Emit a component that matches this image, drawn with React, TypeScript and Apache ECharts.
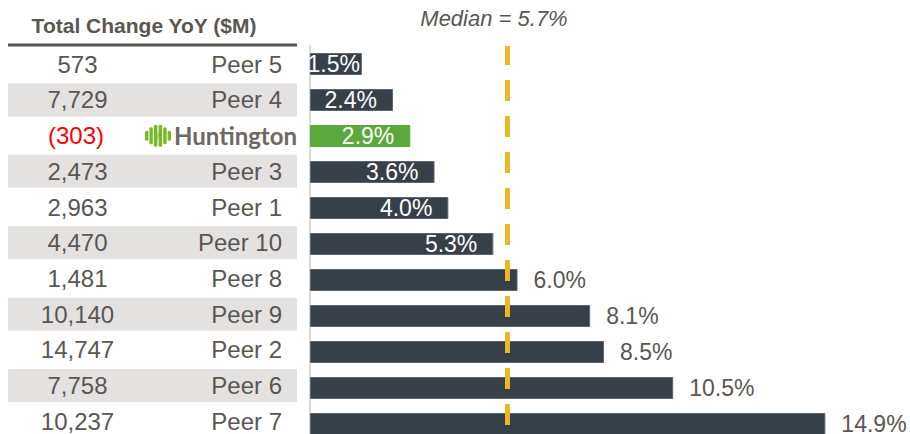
import React, { useEffect, useRef } from 'react';
import * as echarts from 'echarts';

const categories = ['Peer 5', 'Peer 4', 'Huntington', 'Peer 3', 'Peer 1', 'Peer 10', 'Peer 8', 'Peer 9', 'Peer 2', 'Peer 6', 'Peer 7'];
const changeYoY = ['573', '7,729', '(303)', '2,473', '2,963', '4,470', '1,481', '10,140', '14,747', '7,758', '10,237'];
const growth = [1.5, 2.4, 2.9, 3.6, 4.0, 5.3, 6.0, 8.1, 8.5, 10.5, 14.9];
const median = 5.7;
const highlight = 'Huntington';
const headerText = 'Total Change YoY ($M)';
const medianText = 'Median = 5.7%';

const FONT = "'Liberation Sans', Arial, sans-serif";
const TEXT = '#5a5653';
const STRIPE = '#e4e2e0';
const BAR = '#373f48';
const GREEN = '#5ba83c';
const GOLD = '#e9b824';

const logoSvg =
  '<svg xmlns="http://www.w3.org/2000/svg" width="26" height="23" viewBox="0 0 26 23"><g fill="#79b82a">' +
  '<rect x="0" y="6.5" width="3.4" height="10" rx="1.5"/>' +
  '<rect x="4.4" y="3" width="3.4" height="17" rx="1.5"/>' +
  '<rect x="8.8" y="0.5" width="3.6" height="22" rx="1.5"/>' +
  '<rect x="13.6" y="0.5" width="3.6" height="22" rx="1.5"/>' +
  '<rect x="18.2" y="3" width="3.4" height="17" rx="1.5"/>' +
  '<rect x="22.6" y="6.5" width="3.4" height="10" rx="1.5"/>' +
  '<polygon points="12.4,12.5 13.6,7 13.6,10.5 12.4,16"/>' +
  '</g></svg>';
const logoUri = 'data:image/svg+xml;charset=utf-8,' + encodeURIComponent(logoSvg);

export default function App() {
  const ref = useRef<HTMLDivElement>(null);
  useEffect(() => {
    if (!ref.current) return;
    const chart = echarts.init(ref.current, undefined, { renderer: 'svg' });
    const base = { fontFamily: FONT, fontSize: 24, color: TEXT, height: 33, lineHeight: 33 };
    const option: any = {
      animation: false,
      grid: [
        { left: 310, top: 46, width: 588, height: 396, containLabel: false },
        { left: 310, top: 46.4, width: 588, height: 392.7, containLabel: false },
      ],
      xAxis: [
        { type: 'value', min: 0, max: 17, show: false, gridIndex: 0 },
        { type: 'value', min: 0, max: 17, show: false, gridIndex: 1 },
      ],
      yAxis: [
        {
          type: 'category',
          gridIndex: 0,
          inverse: true,
          data: categories,
          axisTick: { show: false },
          axisLabel: { show: false },
          axisLine: { show: true, lineStyle: { color: '#d9d9d9', width: 2 } },
        },
        {
          type: 'category',
          gridIndex: 1,
          inverse: true,
          data: categories,
          axisTick: { show: false },
          axisLine: { show: false },
          axisLabel: {
            margin: 13,
            interval: 0,
            formatter: (name: string, idx: number) => {
              const v = changeYoY[idx];
              if (name === highlight) return `{hv|${v}}{sp|}{logo|}{hn|${name}}`;
              const s = idx % 2 === 1 ? 's' : '';
              return `{v${s}|${v}}{n${s}|${name}}`;
            },
            rich: {
              v: { ...base, width: 139, align: 'center' },
              vs: { ...base, width: 139, align: 'center', backgroundColor: STRIPE },
              n: { ...base, width: 135, align: 'right', padding: [0, 15, 0, 0] },
              ns: { ...base, width: 135, align: 'right', padding: [0, 15, 0, 0], backgroundColor: STRIPE },
              hv: { ...base, width: 136, align: 'center', color: '#ff0000' },
              sp: { width: 1, height: 23 },
              logo: { width: 26, height: 23, backgroundColor: { image: logoUri } },
              hn: {
                ...base,
                width: 126,
                align: 'right',
                fontFamily: "Lato, 'Liberation Sans', sans-serif",
                fontWeight: 'bold',
                fontSize: 24,
                color: '#6d6863',
              },
            },
          },
        },
      ],
      graphic: [
        {
          type: 'text',
          x: 144,
          y: 25,
          style: { text: headerText, fontFamily: FONT, fontWeight: 'bold', fontSize: 21, fill: TEXT, align: 'center', verticalAlign: 'middle' },
        },
        {
          type: 'line',
          shape: { x1: 8, y1: 45, x2: 297, y2: 45 },
          style: { stroke: '#595451', lineWidth: 3 },
        },
        {
          type: 'text',
          x: 494,
          y: 18,
          style: { text: medianText, fontFamily: FONT, fontStyle: 'italic', fontSize: 22, fill: TEXT, align: 'center', verticalAlign: 'middle' },
        },
      ],
      series: [
        {
          type: 'bar',
          xAxisIndex: 0,
          yAxisIndex: 0,
          barWidth: 22,
          data: growth.map((g, i) => {
            const inside = g < median;
            return {
              value: g,
              itemStyle: { color: categories[i] === highlight ? GREEN : BAR, borderColor: categories[i] === highlight ? GREEN : '#5f6670', borderWidth: 1 },
              label: {
                show: true,
                position: inside ? 'insideRight' : 'right',
                distance: inside ? (g < 2 ? 2 : 16) : 16,
                color: inside ? '#ffffff' : TEXT,
                fontFamily: FONT,
                fontSize: 23,
                formatter: (p: any) => p.value.toFixed(1) + '%',
              },
            };
          }),
          markLine: {
            silent: true,
            symbol: 'none',
            label: { show: false },
            lineStyle: { color: GOLD, width: 5, type: [21, 15], dashOffset: 2 },
            data: [{ xAxis: median }],
            z: 10,
          },
        },
      ],
    };
    chart.setOption(option);
    return () => chart.dispose();
  }, []);
  return (
    <div style={{ position: 'absolute', left: 0, top: 0, width: 910, height: 434, overflow: 'hidden' }}>
      <div ref={ref} style={{ width: 910, height: 450 }} />
    </div>
  );
}
